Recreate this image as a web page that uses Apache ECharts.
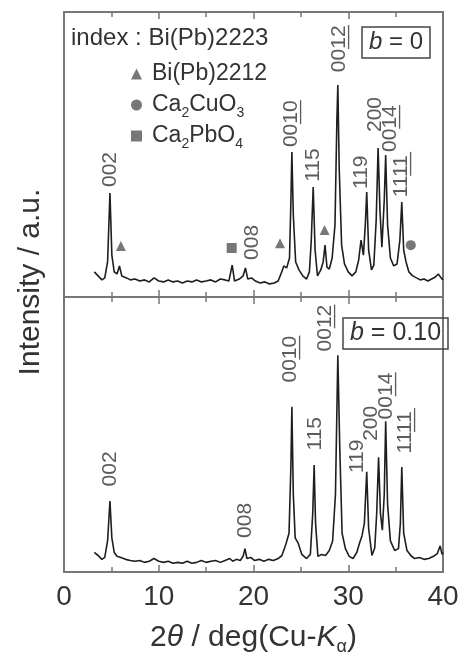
<!DOCTYPE html>
<html><head><meta charset="utf-8">
<script src="https://cdn.jsdelivr.net/npm/echarts@6/dist/echarts.min.js"></script>
<style>html,body{margin:0;padding:0;background:#fff}#c{width:465px;height:657px}</style>
</head><body><div id="c"></div>
<script>
// ---- data ----
const xTickValues = [0, 10, 20, 30, 40];
const upperPattern = [
[3.2,8.8],[3.6,7.4],[4.0,6.0],[4.3,6.7],[4.6,12.3],[4.85,36.5],[5.05,14.7],[5.3,8.8],[5.6,8.1],[5.85,10.9],[6.1,7.4],[6.6,6.7],[7.0,6.0],[7.5,6.3],[8.0,5.6],[8.5,6.0],[9.0,5.3],[9.5,6.7],[10.0,5.6],[10.5,5.3],[11.0,6.0],[11.5,5.3],[12.0,5.6],[12.5,4.9],[13.0,5.6],[13.5,5.3],[14.0,6.0],[14.5,5.3],[15.0,5.6],[15.5,6.0],[16.0,5.3],[16.5,6.3],[17.0,6.0],[17.4,5.6],[17.75,11.2],[18.0,5.6],[18.5,6.3],[18.9,7.4],[19.15,10.2],[19.4,6.3],[19.8,6.7],[20.2,5.6],[20.7,4.9],[21.2,5.3],[21.7,4.6],[22.2,4.9],[22.6,5.6],[22.9,8.1],[23.2,10.9],[23.5,10.2],[23.8,13.7],[23.95,34.0],[24.05,50.9],[24.2,28.8],[24.45,12.3],[24.8,9.5],[25.2,7.4],[25.6,6.3],[25.9,8.8],[26.1,20.0],[26.3,38.6],[26.5,16.5],[26.75,7.4],[27.1,9.5],[27.35,12.3],[27.55,18.2],[27.75,10.5],[28.0,9.8],[28.3,13.7],[28.6,25.3],[28.8,62.0],[28.9,74.4],[29.05,44.6],[29.3,18.2],[29.6,11.6],[30.0,8.8],[30.4,7.4],[30.8,8.8],[31.1,13.0],[31.35,20.0],[31.6,14.7],[31.8,25.3],[31.95,36.8],[32.15,16.5],[32.45,9.5],[32.7,11.2],[32.95,27.0],[33.15,52.3],[33.35,30.2],[33.55,17.5],[33.8,34.0],[33.95,49.8],[34.15,25.3],[34.45,13.7],[34.8,10.9],[35.15,11.6],[35.45,20.0],[35.65,33.3],[35.85,16.5],[36.1,12.3],[36.4,8.8],[36.8,7.4],[37.2,6.7],[37.6,6.0],[38.0,6.3],[38.4,5.6],[38.8,6.3],[39.2,7.0],[39.5,8.1],[39.8,6.7],[40.0,6.0]
];
const lowerPattern = [
[3.2,7.1],[3.6,6.0],[4.0,4.6],[4.3,5.3],[4.6,11.3],[4.85,25.8],[5.05,12.4],[5.3,7.1],[5.6,5.7],[6.0,5.3],[6.5,4.6],[7.0,4.2],[7.5,3.9],[8.0,4.2],[8.5,3.5],[9.0,3.9],[9.5,4.9],[10.0,3.9],[10.5,3.5],[11.0,3.9],[11.5,3.2],[12.0,3.5],[12.5,3.2],[13.0,3.9],[13.5,3.2],[14.0,3.5],[14.5,4.2],[15.0,3.5],[15.5,3.9],[16.0,4.2],[16.5,3.5],[17.0,4.2],[17.5,4.9],[17.8,3.9],[18.2,4.6],[18.6,4.2],[18.9,5.7],[19.1,8.5],[19.3,4.9],[19.7,5.3],[20.1,4.2],[20.6,4.6],[21.1,3.9],[21.6,4.6],[22.1,4.2],[22.6,4.9],[23.0,6.0],[23.4,9.9],[23.75,14.1],[23.95,38.9],[24.05,60.1],[24.2,28.3],[24.4,12.4],[24.7,10.6],[25.1,6.4],[25.6,4.9],[26.0,6.4],[26.25,21.2],[26.4,38.9],[26.55,17.7],[26.8,5.7],[27.2,6.4],[27.6,6.0],[28.0,7.8],[28.35,11.3],[28.65,28.3],[28.9,78.8],[29.1,45.9],[29.35,14.1],[29.7,8.5],[30.1,5.7],[30.5,4.9],[30.9,7.1],[31.2,10.6],[31.45,13.1],[31.7,17.7],[31.95,36.4],[32.15,15.9],[32.5,6.0],[32.8,8.8],[33.0,21.2],[33.2,41.7],[33.4,21.2],[33.6,15.2],[33.8,28.3],[33.95,54.8],[34.15,24.7],[34.45,11.3],[34.9,7.8],[35.3,8.5],[35.5,17.7],[35.65,38.2],[35.85,14.1],[36.2,7.8],[36.6,6.0],[37.0,4.9],[37.5,5.3],[38.0,4.6],[38.5,4.9],[39.0,5.7],[39.4,6.7],[39.7,9.5],[39.9,6.4],[40.0,7.1]
];
// peak index labels: [index text, number of trailing underlined digits, 2theta, intensity at label foot]
const upperLabels = [
['002',0,4.85,38.6],['008',0,19.85,13.0],['0010',2,24.0,52.6],['115',0,26.3,40.4],['0012',2,29.0,78.9],
['119',0,31.35,37.9],['200',0,32.8,57.9],['0014',2,34.4,50.9],['1111',2,35.55,35.0]
];
const lowerLabels = [
['002',0,4.85,31.1],['008',0,19.1,12.4],['0010',2,23.85,68.9],['115',0,26.5,44.2],['0012',2,27.55,80.2],
['119',0,30.95,36.0],['200',0,32.4,47.7],['0014',2,34.0,55.5],['1111',2,36.0,43.1]
];
const phaseBi2212 = [[6.0,17.9],[22.8,18.9],[27.5,23.5]];
const phaseCa2CuO3 = [[36.6,18.2]];
const phaseCa2PbO4 = [[17.7,17.2]];

// ---- chart ----
const FONT = '"Liberation Sans", Arial, sans-serif';
const TXT = '#333';
const FRAME = '#777';
const chart = echarts.init(document.getElementById('c'), null, {renderer: 'canvas'});

function xAx(gridIndex, position, showLabels, extra) {
  return Object.assign({
    type: 'value', gridIndex, position, min: 0, max: 40, interval: 10,
    axisLine: {show: false},
    axisTick: {show: true, inside: true, length: 7, lineStyle: {color: FRAME, width: 1.5}},
    minorTick: {show: true, splitNumber: 2, length: 5, lineStyle: {color: FRAME, width: 1.5}},
    splitLine: {show: false}, minorSplitLine: {show: false},
    axisLabel: {show: showLabels, fontSize: 28, color: TXT, fontFamily: FONT, margin: 11,
      customValues: xTickValues}
  }, extra || {});
}
const LBL_RICH = {
  n: {fontSize: 21, color: TXT, fontFamily: FONT, lineHeight: 24},
  h: {fontSize: 21, color: 'rgba(0,0,0,0)', fontFamily: FONT, lineHeight: 24}
};
function labelSeries(list, xi, yi, underline) {
  return {
    type: 'scatter', xAxisIndex: xi, yAxisIndex: yi, symbolSize: 0, z: 5, silent: true,
    data: list.filter(d => !underline || d[1] > 0).map(d => ({name: d[0], value: [d[2], d[3]], u: d[1]})),
    label: {show: true, position: 'top', distance: 0, rotate: 90,
      align: 'left', verticalAlign: 'middle',
      formatter: p => {
        const t = p.name;
        if (!underline) return '{n|' + t + '}';
        const k = p.data.u;
        return '{h|' + t.slice(0, t.length - k) + '}{n|' + '_'.repeat(k) + '}';
      },
      rich: LBL_RICH}
  };
}
function markerSeries(name, symbol, data) {
  return {type: 'scatter', name, symbol, symbolSize: 10, xAxisIndex: 0, yAxisIndex: 0, z: 6,
    itemStyle: {color: '#555'}, data};
}
const legendNames = {
  'Bi(Pb)2212': 'Bi(Pb)2212',
  'Ca2CuO3': 'Ca{sub|2}CuO{sub|3}',
  'Ca2PbO4': 'Ca{sub|2}PbO{sub|4}'
};

chart.setOption({
  animation: false,
  backgroundColor: '#fff',
  textStyle: {fontFamily: FONT},
  grid: [
    {left: 64, right: 22, top: 12, height: 285, show: true, borderColor: FRAME, borderWidth: 2},
    {left: 64, right: 22, top: 297, height: 283, show: true, borderColor: FRAME, borderWidth: 2}
  ],
  xAxis: [
    xAx(0, 'bottom', false),
    xAx(0, 'top', false),
    xAx(1, 'bottom', true, {
      name: '2{it|\u03b8} / deg(Cu-{it|K}{sub|\u03b1})', nameLocation: 'middle', nameGap: 48,
      nameTextStyle: {fontSize: 30, color: TXT, fontFamily: FONT, lineHeight: 34,
        rich: {it: {fontStyle: 'italic', fontSize: 30, color: TXT, fontFamily: FONT, lineHeight: 34},
               sub: {fontSize: 18, color: TXT, fontFamily: FONT, lineHeight: 36, verticalAlign: 'bottom'}}}
    }),
    xAx(1, 'top', false)
  ],
  yAxis: [
    {type: 'value', gridIndex: 0, min: 0, max: 100, show: false},
    {type: 'value', gridIndex: 1, min: 0, max: 100, show: false}
  ],
  legend: {
    orient: 'vertical', left: 126, top: 54, itemWidth: 11, itemHeight: 11, itemGap: 1,
    selectedMode: false,
    data: ['Bi(Pb)2212', 'Ca2CuO3', 'Ca2PbO4'],
    formatter: n => legendNames[n],
    textStyle: {fontSize: 23, color: TXT, fontFamily: FONT, lineHeight: 30, padding: [0, 0, 0, 5],
      rich: {sub: {fontSize: 14, color: TXT, fontFamily: FONT, lineHeight: 30, verticalAlign: 'bottom'}}}
  },
  title: [
    {text: '{i|b} = 0', left: 362, top: 27, padding: [1, 7, 1, 7], borderColor: '#444', borderWidth: 1.5,
      textStyle: {fontSize: 24, fontWeight: 'normal', color: TXT, fontFamily: FONT, lineHeight: 29,
        rich: {i: {fontStyle: 'italic', fontSize: 24, color: TXT, fontFamily: FONT, lineHeight: 29}}}},
    {text: '{i|b} = 0.10', left: 343, top: 318, padding: [1, 7, 1, 7], borderColor: '#444', borderWidth: 1.5,
      textStyle: {fontSize: 25, fontWeight: 'normal', color: TXT, fontFamily: FONT, lineHeight: 29,
        rich: {i: {fontStyle: 'italic', fontSize: 25, color: TXT, fontFamily: FONT, lineHeight: 29}}}}
  ],
  graphic: [
    {type: 'text', left: 71, top: 26, style: {text: 'index : Bi(Pb)2223', font: '24px ' + FONT, fill: TXT}},
    {type: 'text', x: 31, y: 282, rotation: Math.PI / 2,
      style: {text: 'Intensity / a.u.', font: '30px ' + FONT, fill: TXT, align: 'center', verticalAlign: 'middle'}}
  ],
  series: [
    {type: 'line', xAxisIndex: 0, yAxisIndex: 0, data: upperPattern, showSymbol: false, silent: true,
      lineStyle: {color: '#1e1e1e', width: 1.6}},
    {type: 'line', xAxisIndex: 2, yAxisIndex: 1, data: lowerPattern, showSymbol: false, silent: true,
      lineStyle: {color: '#1e1e1e', width: 1.6}},
    labelSeries(upperLabels, 0, 0, false),
    labelSeries(lowerLabels, 2, 1, false),
    labelSeries(upperLabels, 0, 0, true),
    labelSeries(lowerLabels, 2, 1, true),
    markerSeries('Bi(Pb)2212', 'triangle', phaseBi2212),
    markerSeries('Ca2CuO3', 'circle', phaseCa2CuO3),
    markerSeries('Ca2PbO4', 'rect', phaseCa2PbO4)
  ]
});
</script></body></html>
